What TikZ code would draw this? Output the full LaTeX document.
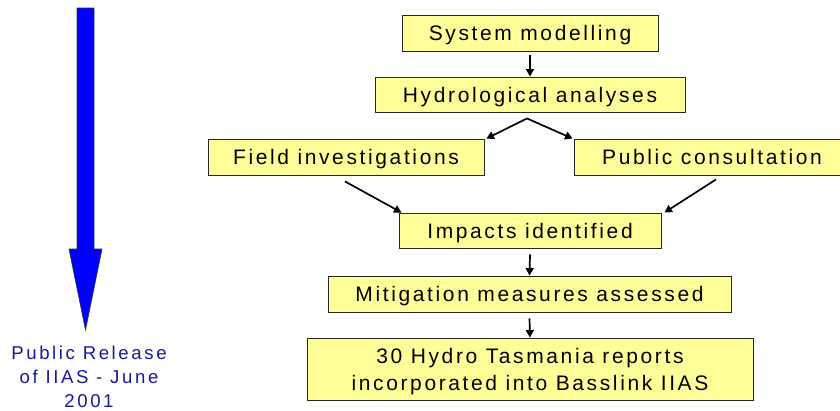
\documentclass[tikz,border=0pt]{standalone}
\usepackage{fontspec}
\setmainfont{Liberation Sans}
\newfontfamily\boxfont[LetterSpace=12.5]{Liberation Sans}
\newfontfamily\sidefont[LetterSpace=14]{Liberation Sans}
\usetikzlibrary{arrows.meta}
\definecolor{boxyellow}{RGB}{255,255,153}
\definecolor{sideblue}{RGB}{25,25,150}
\definecolor{arrowblue}{RGB}{0,0,255}
\tikzset{
  stepbox/.style={draw=black!85, line width=0.9pt, fill=boxyellow, inner sep=0pt,
    font=\boxfont\fontsize{21}{27}\selectfont, text height=15pt, text depth=0pt, align=center},
  flowarrow/.style={draw=black, line width=1.7pt, -{Triangle[length=7.5pt,width=8pt]}},
}
\begin{document}
\begin{tikzpicture}[x=1pt,y=-1pt]
\useasboundingbox (0,0) rectangle (840,410);
\clip (0,0) rectangle (840,410);
% big blue arrow
\draw[fill=arrowblue, draw=black!80, line width=0.6pt]
  (77,8) -- (94,8) -- (94,249) -- (102,249) -- (85.5,330) -- (69,249) -- (77,249) -- cycle;
\node[sideblue, font=\sidefont\fontsize{18.6}{24}\selectfont, align=center, text depth=0pt, inner sep=0pt]
  (release) at (89,376.5) {Public Release\\of IIAS - June\\2001};
% boxes
\node[stepbox, minimum width=256pt, minimum height=36pt] (sys) at (530,33) {System modelling};
\node[stepbox, minimum width=310pt, minimum height=35pt] (hyd) at (530,94.5) {Hydrological analyses};
\node[stepbox, minimum width=276pt, minimum height=36pt] (field) at (346,157) {Field investigations};
\node[stepbox, minimum width=276pt, minimum height=36pt] (pub) at (712,157) {Public consultation};
\node[stepbox, minimum width=262pt, minimum height=35pt] (imp) at (530,230.5) {Impacts identified};
\node[stepbox, minimum width=403pt, minimum height=36pt] (mit) at (529.5,294) {Mitigation measures assessed};
\node[stepbox, minimum width=446pt, minimum height=62pt, text height=] (rep) at (530,369)
  {30 Hydro Tasmania reports\\incorporated into Basslink IIAS};
% connectors
\draw[flowarrow] ([yshift=-4pt]sys.south) -- (hyd.north);
\draw[flowarrow] ([xshift=-3pt,yshift=-6pt]hyd.south) -- ([xshift=2pt]field.north east);
\draw[flowarrow] ([xshift=-3pt,yshift=-6pt]hyd.south) -- ([xshift=-1pt]pub.north west);
\draw[flowarrow] ([xshift=-1pt,yshift=-6pt]field.south) -- ([xshift=3pt]imp.north west);
\draw[flowarrow] ([xshift=4pt,yshift=-4pt]pub.south) -- ([xshift=3pt]imp.north east);
\draw[flowarrow] ([yshift=-6pt]imp.south) -- (mit.north);
\draw[flowarrow] ([yshift=-6pt]mit.south) -- (rep.north);
\end{tikzpicture}
\end{document}
